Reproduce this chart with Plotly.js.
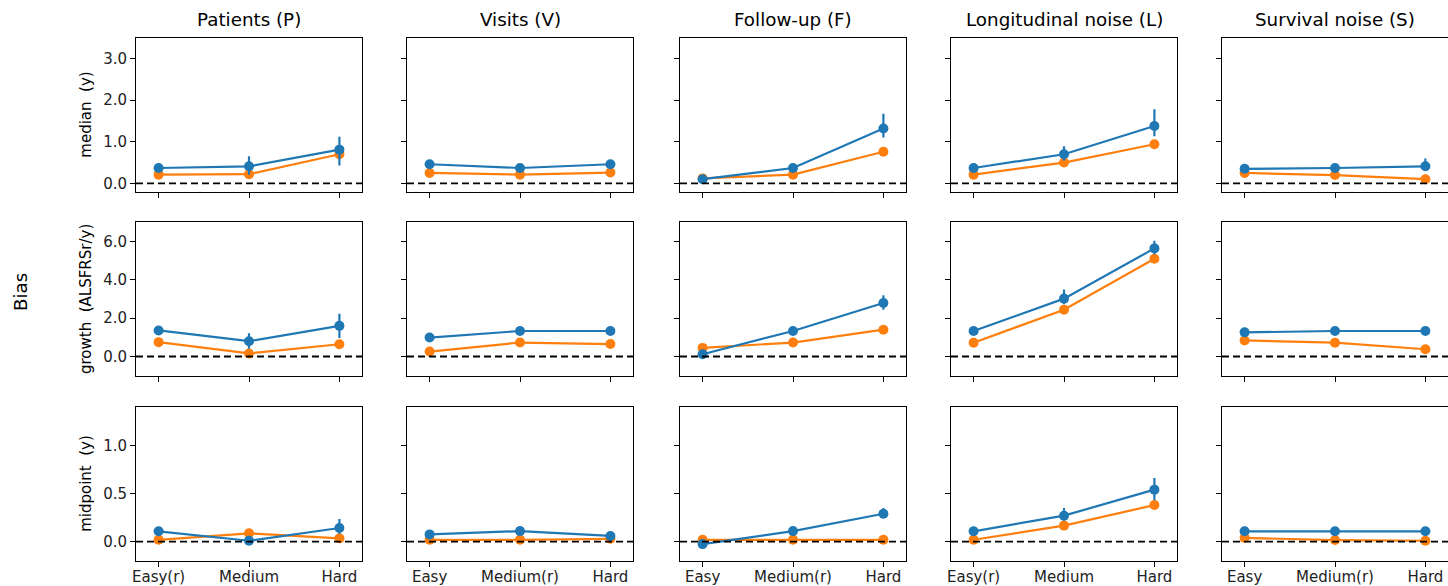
<!DOCTYPE html>
<html>
<head>
<meta charset="utf-8">
<script src="https://cdn.plot.ly/plotly-3.0.1.min.js"></script>
<style>html,body{margin:0;padding:0;background:#fff;}#chart{width:1448px;height:586px;}</style>
</head>
<body>
<div id="chart"></div>
<script>
// ---------- data ----------
const dimensions = ["Patients (P)", "Visits (V)", "Follow-up (F)", "Longitudinal noise (L)", "Survival noise (S)"];
const levels = ["Easy", "Medium", "Hard"];
const tickLabelsP = ["Easy(r)", "Medium", "Hard"];
const tickLabelsV = ["Easy", "Medium(r)", "Hard"];
const tickLabelsF = ["Easy", "Medium(r)", "Hard"];
const tickLabelsL = ["Easy(r)", "Medium", "Hard"];
const tickLabelsS = ["Easy", "Medium(r)", "Hard"];
const metricLabels = ["median  (y)", "growth  (ALSFRSr/y)", "midpoint  (y)"];
const rowLabel = "Bias";

// median (y): one row per dimension P,V,F,L,S
const medianBlue      = [[0.37, 0.41, 0.81], [0.46, 0.37, 0.46], [0.10, 0.37, 1.32], [0.37, 0.70, 1.38], [0.35, 0.37, 0.41]];
const medianBlueUp    = [[0.07, 0.24, 0.31], [0.09, 0.05, 0.09], [0.03, 0.07, 0.35], [0.05, 0.19, 0.40], [0.04, 0.04, 0.19]];
const medianBlueDown  = [[0.07, 0.20, 0.38], [0.09, 0.05, 0.09], [0.03, 0.07, 0.22], [0.05, 0.15, 0.25], [0.04, 0.04, 0.10]];
const medianOrange    = [[0.21, 0.22, 0.70], [0.25, 0.21, 0.26], [0.12, 0.21, 0.76], [0.21, 0.50, 0.94], [0.25, 0.20, 0.10]];

// growth (ALSFRSr/y)
const growthBlue      = [[1.36, 0.80, 1.60], [0.99, 1.33, 1.33], [0.12, 1.33, 2.79], [1.33, 3.02, 5.64], [1.26, 1.33, 1.33]];
const growthBlueUp    = [[0.10, 0.42, 0.63], [0.10, 0.10, 0.20], [0.05, 0.10, 0.40], [0.10, 0.47, 0.40], [0.08, 0.08, 0.08]];
const growthBlueDown  = [[0.10, 0.40, 0.64], [0.10, 0.10, 0.20], [0.05, 0.10, 0.35], [0.10, 0.30, 0.30], [0.08, 0.08, 0.08]];
const growthOrange    = [[0.75, 0.16, 0.64], [0.26, 0.73, 0.65], [0.45, 0.73, 1.40], [0.72, 2.44, 5.10], [0.84, 0.72, 0.38]];

// midpoint (y)
const midpointBlue     = [[0.108, 0.010, 0.142], [0.076, 0.110, 0.060], [-0.025, 0.110, 0.290], [0.108, 0.270, 0.540], [0.108, 0.108, 0.108]];
const midpointBlueUp   = [[0.020, 0.020, 0.094], [0.015, 0.015, 0.015], [0.010, 0.020, 0.060], [0.015, 0.080, 0.120], [0.010, 0.010, 0.010]];
const midpointBlueDown = [[0.020, 0.020, 0.060], [0.015, 0.015, 0.015], [0.010, 0.020, 0.040], [0.015, 0.050, 0.110], [0.010, 0.010, 0.010]];
const midpointOrange   = [[0.020, 0.087, 0.035], [0.020, 0.020, 0.030], [0.020, 0.020, 0.020], [0.020, 0.167, 0.380], [0.040, 0.017, 0.010]];

// ---------- layout helpers ----------
const tickLabelsByDim = [tickLabelsP, tickLabelsV, tickLabelsF, tickLabelsL, tickLabelsS];
const blueByRow  = [medianBlue, growthBlue, midpointBlue];
const upByRow    = [medianBlueUp, growthBlueUp, midpointBlueUp];
const downByRow  = [medianBlueDown, growthBlueDown, midpointBlueDown];
const orangeByRow = [medianOrange, growthOrange, midpointOrange];

const W = 1448, H = 586;
const colLeft = [136, 407, 680, 951, 1222];
const colWidth = 226;
const rowTopBottom = [[37.7, 191.7], [222.3, 375.7], [406.7, 561]];
const yRanges = [[-0.2, 3.5], [-1, 7], [-0.2, 1.4]];
const yTicks = [[0, 1, 2, 3], [0, 2, 4, 6], [0, 0.5, 1.0]];

const BLUE = "#1f77b4", ORANGE = "#ff7f0e";
const FONT = "DejaVu Sans, sans-serif";
const TICK_SIZE = 15, LABEL_SIZE = 15, TITLE_SIZE = 18.3;

const traces = [];
const layout = {
  width: W, height: H,
  margin: {l: 0, r: 0, t: 0, b: 0},
  paper_bgcolor: "#fff", plot_bgcolor: "#fff",
  showlegend: false,
  font: {family: FONT, size: TICK_SIZE, color: "#000"},
  shapes: [], annotations: []
};

for (let r = 0; r < 3; r++) {
  for (let c = 0; c < 5; c++) {
    const k = r * 5 + c + 1;
    const xs = k === 1 ? "x" : "x" + k;
    const ys = k === 1 ? "y" : "y" + k;
    const xName = k === 1 ? "xaxis" : "xaxis" + k;
    const yName = k === 1 ? "yaxis" : "yaxis" + k;
    const x0 = colLeft[c] / W;
    const x1 = Math.min(1, (colLeft[c] + colWidth) / W);
    const [top, bot] = rowTopBottom[r];
    layout[xName] = {
      domain: [x0, x1], anchor: ys, type: "category",
      range: [-0.25, 2.25],
      tickmode: "array", tickvals: levels, ticktext: tickLabelsByDim[c],
      showticklabels: r === 2,
      ticklabelstandoff: -3,
      ticks: "outside", ticklen: 5, tickwidth: 1, tickcolor: "#000",
      showline: true, mirror: true, linecolor: "#000", linewidth: 1,
      showgrid: false, zeroline: false,
      tickfont: {family: FONT, size: TICK_SIZE, color: "#222"},
      fixedrange: true
    };
    layout[yName] = {
      domain: [(H - bot) / H, (H - top) / H], anchor: xs,
      range: yRanges[r],
      tickmode: "array", tickvals: yTicks[r],
      tickformat: ".1f",
      showticklabels: c === 0,
      ticks: "outside", ticklen: 5, tickwidth: 1, tickcolor: "#000",
      showline: true, mirror: true, linecolor: "#000", linewidth: 1,
      showgrid: false, zeroline: false,
      tickfont: {family: FONT, size: TICK_SIZE, color: "#222"},
      fixedrange: true
    };
    // dashed zero reference line
    layout.shapes.push({
      type: "line", xref: xs + " domain", yref: ys,
      x0: 0, x1: 1, y0: 0, y1: 0,
      line: {color: "#000", width: 1.8, dash: "7px,4px"}, layer: "above"
    });
    traces.push({
      type: "scatter", mode: "lines+markers", xaxis: xs, yaxis: ys,
      x: levels, y: orangeByRow[r][c],
      line: {color: ORANGE, width: 2.2}, marker: {color: ORANGE, size: 10},
      hoverinfo: "skip"
    });
    traces.push({
      type: "scatter", mode: "lines+markers", xaxis: xs, yaxis: ys,
      x: levels, y: blueByRow[r][c],
      error_y: {type: "data", symmetric: false, array: upByRow[r][c], arrayminus: downByRow[r][c],
                color: BLUE, thickness: 2.2, width: 0},
      line: {color: BLUE, width: 2.2}, marker: {color: BLUE, size: 10},
      hoverinfo: "skip"
    });
    if (r === 0) {
      layout.annotations.push({
        text: dimensions[c], xref: "paper", yref: "paper",
        x: (colLeft[c] + colWidth / 2) / W, y: 1 - 20 / H,
        xanchor: "center", yanchor: "middle", showarrow: false,
        font: {family: FONT, size: TITLE_SIZE, color: "#000"}
      });
    }
    if (c === 0) {
      layout.annotations.push({
        text: metricLabels[r].replace(/ /g, "\u00a0"), xref: "paper", yref: "paper",
        x: 86 / W, y: 1 - ((top + bot) / 2) / H,
        xanchor: "center", yanchor: "middle", textangle: -90, showarrow: false,
        font: {family: FONT, size: LABEL_SIZE, color: "#000"}
      });
    }
  }
}
layout.annotations.push({
  text: rowLabel, xref: "paper", yref: "paper",
  x: 20 / W, y: 1 - 292 / H,
  xanchor: "center", yanchor: "middle", textangle: -90, showarrow: false,
  font: {family: FONT, size: TITLE_SIZE, color: "#000"}
});

Plotly.newPlot("chart", traces, layout, {displayModeBar: false, staticPlot: true});
</script>
</body>
</html>
